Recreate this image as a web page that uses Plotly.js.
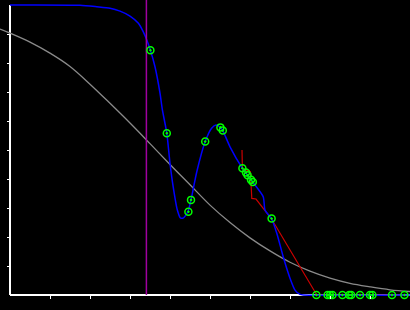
<!DOCTYPE html>
<html>
<head>
<meta charset="utf-8">
<script src="https://cdn.plot.ly/plotly-3.0.1.min.js"></script>
<style>html,body{margin:0;padding:0;background:#000;}#chart{width:410px;height:310px;}</style>
</head>
<body>
<div id="chart"></div>
<script>
// Gray reference curve
const grayX = [-0.025, 0, 0.05, 0.1, 0.15, 0.2, 0.25, 0.3, 0.35, 0.4, 0.45, 0.5, 0.55, 0.6, 0.65, 0.7, 0.75, 0.8, 0.85, 0.9, 0.95, 1.0];
const grayY = [0.917, 0.903, 0.872, 0.834, 0.788, 0.727, 0.661, 0.593, 0.522, 0.45, 0.38, 0.31, 0.25, 0.197, 0.152, 0.113, 0.082, 0.058, 0.04, 0.028, 0.018, 0.012];

// Blue fitted curve
const blueX = [0, 0.175, 0.2167, 0.25, 0.275, 0.30, 0.321, 0.333, 0.342, 0.351, 0.3625, 0.375, 0.381, 0.392, 0.40, 0.408, 0.418, 0.426, 0.434, 0.44, 0.446, 0.4525, 0.467, 0.488, 0.504, 0.515, 0.526, 0.532, 0.55, 0.581, 0.6025, 0.633, 0.6375, 0.654, 0.667, 0.683, 0.70, 0.7125, 0.725, 0.733, 1.0];
const blueY = [1.0, 0.999, 0.994, 0.989, 0.979, 0.962, 0.937, 0.908, 0.879, 0.844, 0.787, 0.696, 0.638, 0.558, 0.454, 0.373, 0.295, 0.266, 0.266, 0.276, 0.292, 0.328, 0.425, 0.529, 0.575, 0.586, 0.578, 0.567, 0.511, 0.437, 0.397, 0.339, 0.293, 0.262, 0.213, 0.132, 0.058, 0.017, 0.002, 0, 0];

// Red step path
const redX = [0.58, 0.581, 0.601, 0.6045, 0.615, 0.654, 0.767, 0.986];
const redY = [0.50, 0.437, 0.425, 0.333, 0.331, 0.262, 0, 0];

// Magenta vertical marker
const vlineX = [0.341, 0.341];
const vlineY = [0, 1.1];

// Green observation points
const ptsX = [0.351, 0.392, 0.446, 0.4525, 0.488, 0.526, 0.532, 0.581, 0.59, 0.594, 0.6025, 0.607, 0.654, 0.766, 0.794, 0.80, 0.806, 0.831, 0.848, 0.853, 0.875, 0.90, 0.906, 0.955, 0.986];
const ptsY = [0.844, 0.558, 0.287, 0.328, 0.529, 0.578, 0.567, 0.437, 0.422, 0.413, 0.397, 0.39, 0.264, 0, 0, 0, 0, 0, 0, 0, 0, 0, 0, 0, 0];

// Tick positions
const tickVals = [0.1, 0.2, 0.3, 0.4, 0.5, 0.6, 0.7, 0.8, 0.9];

const traces = [
  {x: grayX, y: grayY, mode: 'lines', line: {color: '#8a8a8a', width: 1.3, shape: 'spline', smoothing: 1}},
  {x: redX, y: redY, mode: 'lines', line: {color: '#cc0000', width: 1.2}},
  {x: blueX, y: blueY, mode: 'lines', line: {color: '#0000ff', width: 1.5, shape: 'spline', smoothing: 0.6}},
  {x: vlineX, y: vlineY, mode: 'lines', line: {color: '#a000a0', width: 1.5}},
  {x: ptsX, y: ptsY, mode: 'markers', cliponaxis: false,
   marker: {symbol: 'circle-open-dot', size: 7, color: '#00ff00', line: {color: '#00ff00', width: 1.5}}}
];

const layout = {
  width: 410, height: 310,
  margin: {l: 0, r: 0, t: 0, b: 0, pad: 0},
  paper_bgcolor: '#000', plot_bgcolor: '#000',
  showlegend: false,
  xaxis: {range: [-0.025, 1.0], showgrid: false, zeroline: false, showline: false,
    showticklabels: false, ticks: 'outside', tickvals: tickVals, ticklen: 3, tickwidth: 1,
    tickcolor: '#ffffff', anchor: 'free', position: 15/310},
  yaxis: {range: [-15/290, 1 + 5/290], showgrid: false, zeroline: false, showline: false,
    showticklabels: false, ticks: 'outside', tickvals: tickVals, ticklen: 3, tickwidth: 1,
    tickcolor: '#ffffff', anchor: 'free', position: 10/410},
  shapes: [
    {type: 'line', xref: 'x', yref: 'y', x0: 0, x1: 0, y0: 0, y1: 1, layer: 'below', line: {color: '#ffffff', width: 2}},
    {type: 'line', xref: 'x', yref: 'y', x0: 0, x1: 1.0, y0: 0, y1: 0, layer: 'below', line: {color: '#ffffff', width: 2}}
  ]
};

Plotly.newPlot('chart', traces, layout, {staticPlot: true, displayModeBar: false});
</script>
</body>
</html>
